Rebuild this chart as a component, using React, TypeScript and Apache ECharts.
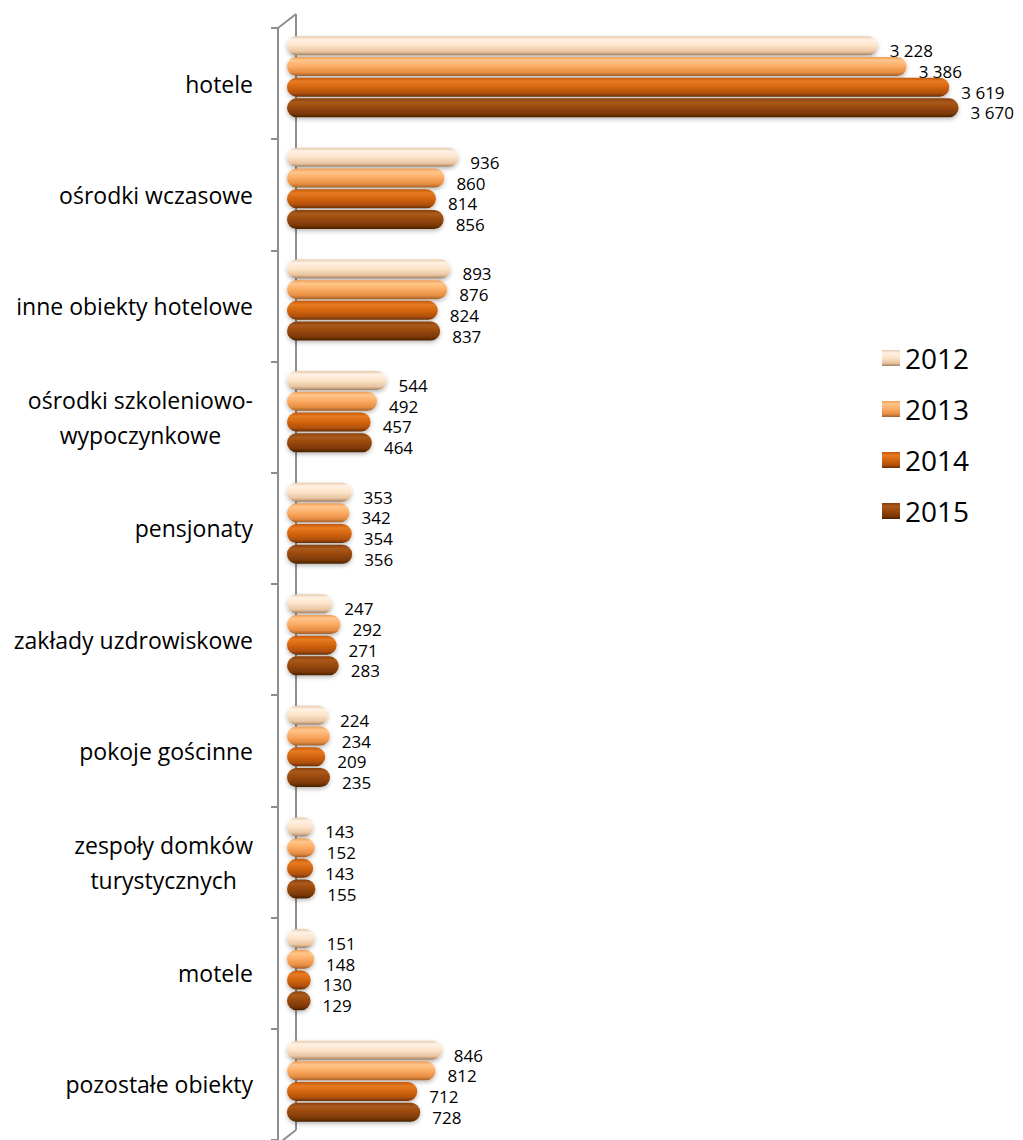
import React, { useEffect, useRef } from "react";
import * as echarts from "echarts";

const categories = [
  "hotele",
  "ośrodki wczasowe",
  "inne obiekty hotelowe",
  "ośrodki szkoleniowo-\nwypoczynkowe",
  "pensjonaty",
  "zakłady uzdrowiskowe",
  "pokoje gościnne",
  "zespoły domków\nturystycznych",
  "motele",
  "pozostałe obiekty",
];
const seriesNames = ["2012", "2013", "2014", "2015"];
const v2012 = [3228, 936, 893, 544, 353, 247, 224, 143, 151, 846];
const v2013 = [3386, 860, 876, 492, 342, 292, 234, 152, 148, 812];
const v2014 = [3619, 814, 824, 457, 354, 271, 209, 143, 130, 712];
const v2015 = [3670, 856, 837, 464, 356, 283, 235, 155, 129, 728];
const seriesValues = [v2012, v2013, v2014, v2015];

const gradientStops: [number, string][][] = [
  [
    [0, "#E6C9AA"],
    [0.18, "#FFF2E4"],
    [0.5, "#FCE3C8"],
    [0.82, "#E8C4A0"],
    [1, "#A38162"],
  ],
  [
    [0, "#F09C52"],
    [0.18, "#FFC68C"],
    [0.5, "#FBAB63"],
    [0.82, "#E58C41"],
    [1, "#A0602A"],
  ],
  [
    [0, "#C4580A"],
    [0.2, "#E67B22"],
    [0.5, "#D4650F"],
    [0.82, "#B0500A"],
    [1, "#6A2E05"],
  ],
  [
    [0, "#873F09"],
    [0.2, "#AA5A1C"],
    [0.5, "#984709"],
    [0.82, "#7A3806"],
    [1, "#452003"],
  ],
];

const FONT = "'Open Sans', 'Noto Sans', sans-serif";
const AXIS_GRAY = "#8E8E8E";

function fmt(n: number): string {
  return String(n).replace(/\B(?=(\d{3})+(?!\d))/g, " ");
}

export default function App() {
  const ref = useRef<HTMLDivElement>(null);

  useEffect(() => {
    if (!ref.current) return;
    const chart = echarts.init(ref.current, null, { renderer: "svg" });

    const series = seriesNames.map((name, i) => ({
      name,
      type: "bar",
      xAxisIndex: 1,
      yAxisIndex: 1,
      data: seriesValues[i],
      barWidth: 19,
      barGap: "9%",
      itemStyle: {
        color: new echarts.graphic.LinearGradient(
          0,
          0,
          0,
          1,
          gradientStops[i].map(([offset, color]) => ({ offset, color }))
        ),
        borderRadius: 9.5,
        shadowColor: "rgba(0,0,0,0.28)",
        shadowBlur: 4,
        shadowOffsetY: 2,
      },
      label: {
        show: true,
        position: "right",
        distance: 12,
        offset: [0, 5],
        fontFamily: FONT,
        fontSize: 17,
        lineHeight: 19,
        color: "#000",
        formatter: (p: any) => fmt(p.value),
      },
      z: 3,
    }));

    chart.setOption({
      animation: false,
      backgroundColor: "#fff",
      grid: [
        { left: 278, top: 28, width: 732, height: 1116 },
        { left: 287, top: 21, width: 732, height: 1116 },
      ],
      xAxis: [
        { type: "value", gridIndex: 0, min: 0, max: 4000, show: false },
        { type: "value", gridIndex: 1, min: 0, max: 4000, show: false },
      ],
      yAxis: [
        {
          type: "category",
          gridIndex: 0,
          inverse: true,
          data: categories,
          axisLine: { show: true, lineStyle: { color: AXIS_GRAY, width: 2 } },
          axisTick: { show: true, length: 7, lineStyle: { color: AXIS_GRAY, width: 2 } },
          splitLine: { show: false },
          axisLabel: {
            margin: 25,
            formatter: (v: string) =>
              v
                .split("\n")
                .map((l) => `{c|${l}}`)
                .join("\n"),
            rich: {
              c: {
                align: "center",
                fontFamily: FONT,
                fontSize: 23,
                lineHeight: 35,
                color: "#000",
              },
            },
          },
        },
        {
          type: "category",
          gridIndex: 1,
          inverse: true,
          data: categories,
          show: false,
        },
      ],
      legend: {
        orient: "vertical",
        left: 877,
        top: 339,
        itemWidth: 18,
        itemHeight: 16,
        itemGap: 23,
        data: seriesNames,
        textStyle: {
          fontFamily: FONT,
          fontSize: 28,
          lineHeight: 28,
          color: "#000",
        },
        icon: "rect",
      },
      graphic: [
        {
          type: "line",
          shape: { x1: 296, y1: 14, x2: 296, y2: 1130 },
          style: { stroke: AXIS_GRAY, lineWidth: 2 },
          z: 0,
        },
        {
          type: "line",
          shape: { x1: 278, y1: 28, x2: 296, y2: 14 },
          style: { stroke: AXIS_GRAY, lineWidth: 2 },
          z: 0,
        },
        {
          type: "line",
          shape: { x1: 278, y1: 1144, x2: 296, y2: 1130 },
          style: { stroke: AXIS_GRAY, lineWidth: 2 },
          z: 0,
        },
      ],
      series,
    });

    return () => chart.dispose();
  }, []);

  return (
    <div
      ref={ref}
      style={{ position: "absolute", left: 0, top: 0, width: 1023, height: 1140 }}
    />
  );
}
